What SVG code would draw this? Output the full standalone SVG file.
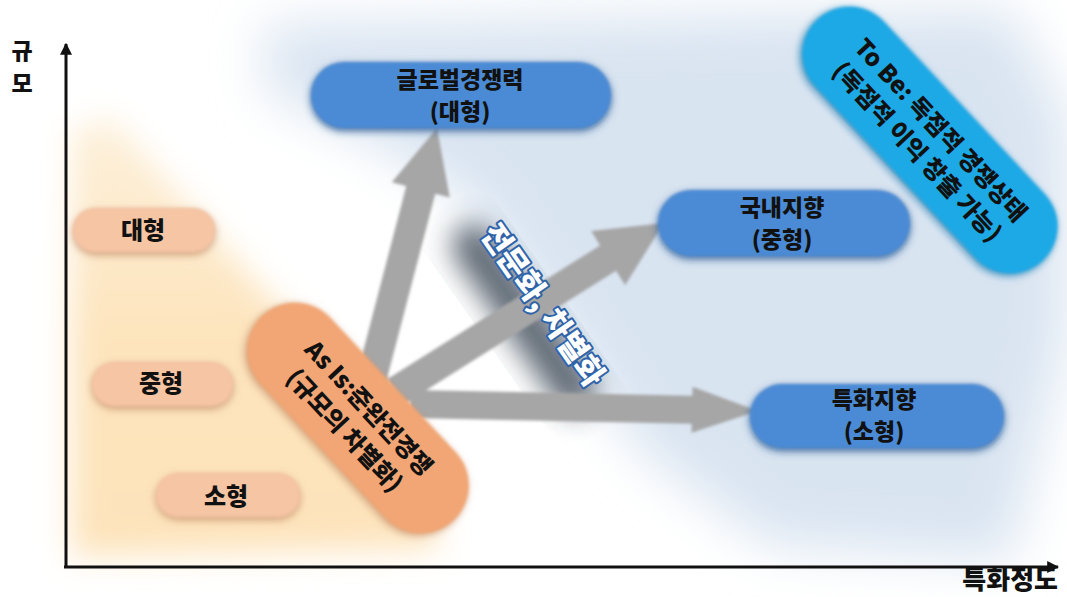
<svg xmlns="http://www.w3.org/2000/svg" width="1067" height="597" viewBox="0 0 1067 597">
<defs>
<style>
.t{font-family:"Noto Sans CJK KR","Noto Sans",sans-serif;font-weight:900;fill:#111;text-anchor:middle}
.ax{stroke:#111;stroke-width:3;fill:none}
.arr{fill:#a6a6a6}
</style>
<filter id="bg" x="-30%" y="-30%" width="160%" height="160%"><feGaussianBlur stdDeviation="26"/></filter>
<filter id="bg2" x="-30%" y="-30%" width="160%" height="160%"><feGaussianBlur stdDeviation="16"/></filter>
<filter id="soft" x="-10%" y="-10%" width="120%" height="120%"><feGaussianBlur stdDeviation="1.6"/></filter>
<filter id="dark" x="-50%" y="-50%" width="200%" height="200%"><feGaussianBlur stdDeviation="14"/></filter>
<filter id="bp" x="-20%" y="-40%" width="140%" height="180%">
<feGaussianBlur in="SourceAlpha" stdDeviation="4" result="b"/>
<feOffset in="b" dx="0" dy="3" result="o"/>
<feFlood flood-color="#1f4f8c" flood-opacity="0.85"/>
<feComposite in2="o" operator="in" result="s"/>
<feGaussianBlur in="SourceGraphic" stdDeviation="1.8" result="g"/>
<feMerge><feMergeNode in="s"/><feMergeNode in="g"/></feMerge>
</filter>
<filter id="pp" x="-20%" y="-40%" width="140%" height="180%">
<feGaussianBlur in="SourceAlpha" stdDeviation="4" result="b"/>
<feOffset in="b" dx="0" dy="3" result="o"/>
<feFlood flood-color="#c48d68" flood-opacity="0.8"/>
<feComposite in2="o" operator="in" result="s"/>
<feGaussianBlur in="SourceGraphic" stdDeviation="1.8" result="g"/>
<feMerge><feMergeNode in="s"/><feMergeNode in="g"/></feMerge>
</filter>
<filter id="cp" x="-20%" y="-40%" width="140%" height="180%">
<feGaussianBlur in="SourceAlpha" stdDeviation="4" result="b"/>
<feOffset in="b" dx="0" dy="3" result="o"/>
<feFlood flood-color="#1470a8" flood-opacity="0.8"/>
<feComposite in2="o" operator="in" result="s"/>
<feGaussianBlur in="SourceGraphic" stdDeviation="1.8" result="g"/>
<feMerge><feMergeNode in="s"/><feMergeNode in="g"/></feMerge>
</filter>
<linearGradient id="peach" x1="0" y1="0" x2="0" y2="1">
<stop offset="0" stop-color="#fdf0da"/>
<stop offset="0.5" stop-color="#fde4bd"/>
<stop offset="1" stop-color="#fde3ba"/>
</linearGradient>
<marker id="ah" viewBox="0 0 10 10" refX="9" refY="5" markerWidth="4" markerHeight="4" orient="auto">
<path d="M0,0 L10,5 L0,10 z" fill="#111"/>
</marker>
</defs>
<rect width="1067" height="597" fill="#ffffff"/>
<g id="background">
<path d="M265,25 L1010,10 L1067,120 L1067,330 L1010,560 L770,545 L640,450 L560,330 L470,200 L370,140 L265,90 Z" fill="#d9e4f1" filter="url(#bg)"/>
<path d="M72,130 L112,118 L250,275 L425,470 L440,548 L72,556 Z" fill="url(#peach)" filter="url(#bg2)"/>
</g>
<g id="axes">
<line class="ax" x1="66" y1="568" x2="66" y2="44" marker-end="url(#ah)"/>
<line class="ax" x1="64" y1="567" x2="1058" y2="567" marker-end="url(#ah)"/>
<text class="t" x="22" y="59" font-size="23">규</text>
<text class="t" x="22" y="92" font-size="23">모</text>
<text class="t" x="1058" y="589" font-size="26" style="text-anchor:end">특화정도</text>
</g>
<g id="label-shadow">
<rect x="-110" y="-22" width="220" height="44" rx="22" fill="#2e3a48" opacity="0.75" filter="url(#dark)" transform="translate(524,318) rotate(55)"/>
</g>
<g id="connectors" filter="url(#soft)">
<polygon class="arr" points="353.5,388.2 406.3,186.1 391.8,182.3 437,128 449.8,197.5 435.3,193.7 382.5,395.8"/>
<polygon class="arr" points="387,379.3 600.1,245.4 591.1,231 664,223 625.1,285.2 616.1,270.8 403,404.7"/>
<polygon class="arr" points="410.3,390 692.3,395.7 692.5,386.7 758,411 691.5,432.7 691.7,423.7 409.7,418"/>
</g>
<g id="label">
<text class="t" x="0" y="11" font-size="31" transform="translate(543,305) rotate(55)" style="fill:#fff;stroke:#2f63a8;stroke-width:4;paint-order:stroke;stroke-linejoin:round">전문화, 차별화</text>
</g>
<g id="node-large">
<rect x="73" y="208" width="142" height="44" rx="22" fill="#f6c5a4" filter="url(#pp)"/>
<text class="t" x="143" y="239" font-size="24">대형</text>
</g>
<g id="node-medium">
<rect x="92" y="362" width="141" height="44" rx="22" fill="#f6c5a4" filter="url(#pp)"/>
<text class="t" x="161" y="392" font-size="24">중형</text>
</g>
<g id="node-small">
<rect x="156" y="473" width="144" height="44" rx="22" fill="#f6c5a4" filter="url(#pp)"/>
<text class="t" x="226" y="505" font-size="24">소형</text>
</g>
<g id="node-asis" transform="translate(358,418) rotate(47)">
<rect x="-140" y="-48" width="280" height="96" rx="48" fill="#f2a674" filter="url(#pp)"/>
<text class="t" x="0" y="-6" font-size="24">As Is:준완전경쟁</text>
<text class="t" x="0" y="27" font-size="24">(규모의 차별화)</text>
</g>
<g id="node-global">
<rect x="311" y="62" width="300" height="66" rx="33" fill="#4b8bd5" filter="url(#bp)"/>
<text class="t" x="460" y="88" font-size="23">글로벌경쟁력</text>
<text class="t" x="460" y="120" font-size="23">(대형)</text>
</g>
<g id="node-domestic">
<rect x="658" y="190" width="252" height="66" rx="33" fill="#4b8bd5" filter="url(#bp)"/>
<text class="t" x="782" y="216" font-size="23">국내지향</text>
<text class="t" x="782" y="248" font-size="23">(중형)</text>
</g>
<g id="node-special">
<rect x="750" y="384" width="254" height="64" rx="32" fill="#4b8bd5" filter="url(#bp)"/>
<text class="t" x="874" y="408" font-size="23">특화지향</text>
<text class="t" x="874" y="440" font-size="23">(소형)</text>
</g>
<g id="node-tobe" transform="translate(930,140) rotate(47)">
<rect x="-165" y="-47" width="330" height="94" rx="47" fill="#1fa9e6" filter="url(#cp)"/>
<text class="t" x="0" y="-6" font-size="24">To Be: 독점적 경쟁상태</text>
<text class="t" x="0" y="26" font-size="24">(독점적 이익 창출 가능)</text>
</g>
</svg>
